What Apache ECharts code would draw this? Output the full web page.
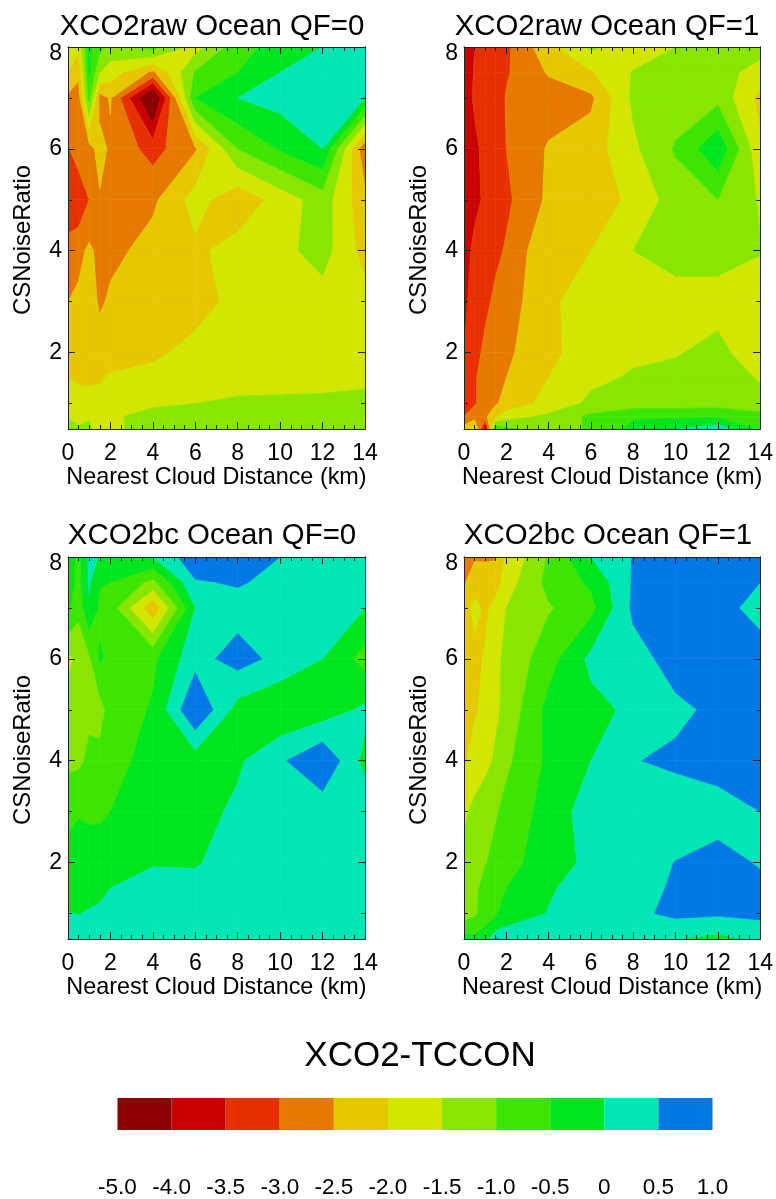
<!DOCTYPE html>
<html>
<head>
<meta charset="utf-8">
<style>html,body{margin:0;padding:0;background:#fff}#c{width:776px;height:1199px}</style>
<script src="https://cdn.jsdelivr.net/npm/echarts@6/dist/echarts.min.js"></script>
</head>
<body>
<div id="c"></div>
<script>
const xGrid = [0, 0.5, 1, 1.5, 2, 4, 6, 8, 10, 12, 14];
const yGrid = [8, 7.5, 7, 6, 5, 4, 3, 2, 1.5, 1, 0.75, 0.5];

const rawQF0 = [
  [-1.4,-1.9,-0.4,-0.8,-1.2,-0.8,-1.7,-0.7,-0.3,0.0,0.15],
  [-2.0,-2.4,-0.45,-1.5,-1.75,-2.6,-0.95,-0.5,0.0,0.3,0.3],
  [-2.6,-2.7,-0.85,-2.7,-2.45,-4.8,-0.5,0.0,0.2,0.3,0.0],
  [-3.05,-2.7,-2.7,-2.3,-2.6,-3.2,-2.55,-1.0,-0.45,0.0,-2.9],
  [-3.5,-3.4,-3.0,-2.55,-2.75,-2.6,-1.8,-2.35,-1.8,-1.25,-2.35],
  [-2.75,-2.65,-2.4,-2.65,-2.65,-2.3,-2.1,-1.8,-1.65,-1.3,-2.2],
  [-2.5,-2.4,-2.2,-2.6,-2.4,-2.2,-2.2,-1.85,-1.75,-1.7,-1.8],
  [-2.2,-2.2,-2.2,-2.15,-2.2,-2.1,-1.85,-1.75,-1.75,-1.75,-1.75],
  [-2.0,-2.1,-2.1,-2.05,-1.95,-1.85,-1.7,-1.65,-1.65,-1.65,-1.6],
  [-1.7,-1.75,-1.8,-1.85,-1.8,-1.55,-1.5,-1.44,-1.42,-1.4,-1.37],
  [-1.52,-1.65,-1.6,-1.8,-1.55,-1.4,-1.38,-1.3,-1.3,-1.3,-1.25],
  [-1.35,-1.45,-1.3,-2.05,-1.6,-1.3,-1.25,-1.25,-1.25,-1.25,-1.25]
];
const rawQF1 = [
  [-3.8,-3.5,-3.3,-3.55,-3.1,-2.15,-1.4,-1.8,-1.5,-1.3,-1.3],
  [-3.85,-3.45,-3.25,-3.3,-3.05,-2.45,-2.05,-1.47,-1.35,-1.3,-1.7],
  [-3.85,-3.4,-3.3,-3.2,-2.97,-2.75,-2.6,-1.4,-1.25,-1.15,-2.15],
  [-3.9,-3.65,-3.3,-3.2,-3.0,-2.45,-2.25,-1.6,-0.95,-0.1,-1.9],
  [-3.95,-3.65,-3.4,-3.3,-3.1,-2.4,-2.25,-1.9,-1.25,-1.0,-1.55],
  [-3.75,-3.35,-3.25,-3.1,-2.95,-2.05,-2.0,-1.5,-1.35,-1.3,-1.48],
  [-3.6,-3.3,-3.1,-2.9,-2.75,-2.1,-1.75,-1.7,-1.65,-1.7,-1.7],
  [-3.5,-3.15,-2.9,-2.75,-2.6,-2.1,-1.8,-1.58,-1.54,-1.35,-1.85],
  [-3.4,-3.05,-2.8,-2.65,-2.5,-2.0,-1.6,-1.45,-1.35,-1.2,-1.55],
  [-3.3,-3.05,-2.8,-2.55,-2.35,-1.8,-1.4,-1.3,-1.25,-1.2,-1.3],
  [-3.0,-2.75,-2.6,-2.1,-1.75,-1.4,-0.9,-0.55,-0.6,-0.6,-0.85],
  [-2.3,-1.8,-3.9,-0.6,-0.9,-1.2,-0.95,-0.37,0.0,0.3,-0.6]
];
const bcQF0 = [
  [-0.2,-0.65,0.1,-0.02,-0.35,0.0,0.85,0.8,0.5,0.3,0.3],
  [-0.25,-0.65,0.05,-0.47,-0.5,-1.14,0.45,0.55,0.35,0.3,0.2],
  [-0.4,-0.85,-0.05,-0.6,-0.75,-2.4,0.0,0.3,0.3,0.3,0.0],
  [-1.6,-1.4,-1.1,-0.45,-0.6,-0.6,0.32,0.7,0.35,0.0,-0.7],
  [-1.3,-1.3,-1.1,-1.2,-0.8,-0.45,1.0,-0.2,-0.45,-0.28,0.1],
  [-1.1,-1.1,-0.9,-0.85,-0.75,-0.25,-0.26,-0.08,0.42,0.95,-0.15],
  [-0.7,-0.55,-0.6,-0.6,-0.5,-0.2,-0.2,0.1,0.25,0.2,0.3],
  [-0.25,-0.2,-0.2,-0.2,-0.2,-0.02,-0.03,0.15,0.2,0.2,0.2],
  [-0.1,-0.12,-0.12,-0.07,0.0,0.1,0.1,0.15,0.2,0.2,0.2],
  [0.01,-0.01,0.03,0.05,0.1,0.15,0.15,0.15,0.2,0.2,0.2],
  [0.1,0.1,0.12,0.15,0.15,0.2,0.2,0.2,0.2,0.2,0.2],
  [0.15,0.15,0.2,0.2,0.2,0.25,0.25,0.25,0.25,0.25,0.25]
];
const bcQF1 = [
  [-2.9,-2.55,-2.55,-2.55,-1.95,-0.95,0.0,0.52,0.7,0.7,0.7],
  [-2.55,-2.25,-2.3,-2.2,-1.75,-0.85,-0.42,0.55,0.7,0.7,0.5],
  [-2.3,-1.85,-2.1,-1.85,-1.5,-1.05,-0.65,0.6,0.8,0.7,0.3],
  [-2.4,-2.15,-1.95,-1.6,-1.4,-0.7,0.12,0.3,0.7,0.8,0.75],
  [-2.25,-2.05,-1.9,-1.6,-1.35,-0.35,-0.15,0.1,0.4,0.6,0.75],
  [-2.05,-1.85,-1.65,-1.42,-1.1,-0.4,0.0,0.48,0.58,0.6,0.8],
  [-1.6,-1.35,-1.2,-1.05,-0.85,-0.3,0.25,0.25,0.25,0.4,0.5],
  [-1.35,-1.2,-1.03,-0.85,-0.7,-0.2,0.1,0.3,0.51,0.58,0.48],
  [-1.2,-1.1,-0.85,-0.65,-0.5,-0.05,0.2,0.35,0.55,0.65,0.55],
  [-1.15,-1.05,-0.85,-0.55,-0.3,0.02,0.2,0.45,0.55,0.55,0.55],
  [-0.9,-0.8,-0.5,-0.3,0.0,0.0,0.2,0.3,0.42,0.3,0.45],
  [-0.25,-0.35,-0.4,0.6,0.2,0.2,0.2,0.15,0.02,-0.2,0.15]
];

const panelTitles = ['XCO2raw Ocean QF=0','XCO2raw Ocean QF=1','XCO2bc Ocean QF=0','XCO2bc Ocean QF=1'];
const panelValues = [rawQF0, rawQF1, bcQF0, bcQF1];
const xAxisName = 'Nearest Cloud Distance (km)';
const yAxisName = 'CSNoiseRatio';
const yMajorTicks = [2,4,6,8];
const yMinorTicks = [1,3,5,7];
const levels = [-5,-4,-3.5,-3,-2.5,-2,-1.5,-1,-0.5,0,0.5,1];
const levelLabels = ['-5.0','-4.0','-3.5','-3.0','-2.5','-2.0','-1.5','-1.0','-0.5','0','0.5','1.0'];
const bandColors = ['#8B0000','#C80000','#E63000','#E67A00','#E6C800','#D2E600','#88E600','#3CE600','#00E61E','#00E6B4','#0078E6'];
const colorbarTitle = 'XCO2-TCCON';

const FONT = '"Liberation Sans", Arial, sans-serif';

// Marching squares on one cell: contour edges join the crossings on the cell's sides.
function cross(a, b, lim) {
  const t = (lim - a.v) / (b.v - a.v);
  return {x: a.x + t * (b.x - a.x), y: a.y + t * (b.y - a.y), v: lim};
}
function clip(poly, lim, sign) {
  const out = [];
  for (let k = 0; k < poly.length; k++) {
    const a = poly[k], b = poly[(k + 1) % poly.length];
    const ina = sign * (a.v - lim) >= 0, inb = sign * (b.v - lim) >= 0;
    if (ina) out.push(a);
    if (ina !== inb) out.push(cross(a, b, lim));
  }
  return out;
}
function isSaddle(q, lim) {
  const s = q.map(function (c) { return c.v >= lim; });
  return s[0] === s[2] && s[1] === s[3] && s[0] !== s[1];
}
function cornerTriangles(q, lim, wantAbove) {
  const out = [];
  for (let k = 0; k < 4; k++) {
    if ((q[k].v >= lim) !== wantAbove) continue;
    const prev = q[(k + 3) % 4], next = q[(k + 1) % 4];
    out.push([q[k], cross(q[k], next, lim), cross(prev, q[k], lim)]);
  }
  return out;
}
function bandPieces(q, lo, hi) {
  const avg = (q[0].v + q[1].v + q[2].v + q[3].v) / 4;
  if (isSaddle(q, hi) && avg >= hi) {
    return cornerTriangles(q, hi, false).map(function (p) { return clip(p, lo, 1); });
  }
  const above = (isSaddle(q, lo) && avg < lo) ? cornerTriangles(q, lo, true) : [clip(q, lo, 1)];
  return above.map(function (p) { return clip(p, hi, -1); });
}

function contourItem(values) {
  return function (params, api) {
    const i = api.value(2), j = api.value(3);
    const quad = [[i, j], [i + 1, j], [i + 1, j + 1], [i, j + 1]].map(function (q) {
      const v = Math.max(levels[0], Math.min(levels[levels.length - 1], values[q[1]][q[0]]));
      return {x: xGrid[q[0]], y: yGrid[q[1]], v: v};
    });
    const children = [];
    for (let b = 0; b < bandColors.length; b++) {
      bandPieces(quad, levels[b], levels[b + 1]).forEach(function (p) {
        if (p.length < 3) return;
        children.push({
          type: 'polygon',
          shape: {points: p.map(function (c) { return api.coord([c.x, c.y]); })},
          style: {fill: bandColors[b], stroke: bandColors[b], lineWidth: 0.6}
        });
      });
    }
    return {type: 'group', children: children};
  };
}

const cellData = [];
for (let j = 0; j < yGrid.length - 1; j++)
  for (let i = 0; i < xGrid.length - 1; i++)
    cellData.push([xGrid[i], yGrid[j], i, j]);

const gridsPos = [
  {left: 68, top: 47, width: 297, height: 382},
  {left: 464, top: 47, width: 297, height: 382},
  {left: 68, top: 557, width: 297, height: 382},
  {left: 464, top: 557, width: 297, height: 382}
];
const titleCenters = [212, 607, 212, 608];
const titleTops = [12, 12, 521, 521];

const axisLine = {show: true, onZero: false, lineStyle: {color: '#222', width: 1}};
const opt = {
  animation: false,
  backgroundColor: '#fff',
  grid: gridsPos.concat([{left: 117.5, top: 1098, width: 595, height: 32}]),
  title: panelTitles.map(function (t, k) {
    return {text: t, left: titleCenters[k], top: titleTops[k], textAlign: 'center', padding: 0,
      textStyle: {fontFamily: FONT, fontSize: 29.4, fontWeight: 'normal', color: '#000'}};
  }).concat([{text: colorbarTitle, left: 420, top: 1039, textAlign: 'center', padding: 0,
      textStyle: {fontFamily: FONT, fontSize: 35, fontWeight: 'normal', color: '#000'}}]),
  xAxis: [], yAxis: [], series: []
};

panelTitles.forEach(function (t, k) {
  ['bottom', 'top'].forEach(function (pos) {
    opt.xAxis.push({
      type: 'value', gridIndex: k, position: pos, min: 0, max: 14, interval: 2, z: 5,
      name: pos === 'bottom' ? xAxisName : '', nameLocation: 'middle', nameGap: 37,
      nameTextStyle: {fontFamily: FONT, fontSize: 23.4, color: '#000'},
      axisLine: axisLine, splitLine: {show: false},
      axisTick: {show: true, inside: true, length: 7, lineStyle: {color: '#222', width: 1}},
      minorTick: {show: true, splitNumber: 4, length: 4, lineStyle: {color: '#222', width: 1}},
      axisLabel: {show: pos === 'bottom', margin: 13, fontFamily: FONT, fontSize: 23, color: '#000', hideOverlap: false}
    });
  });
  [['left', yMajorTicks, 7, true], ['right', yMajorTicks, 7, false],
   ['left', yMinorTicks, 4, false], ['right', yMinorTicks, 4, false]].forEach(function (a, n) {
    opt.yAxis.push({
      type: 'value', gridIndex: k, position: a[0], min: 0.5, max: 8, z: 5,
      name: n === 0 ? yAxisName : '', nameLocation: 'middle', nameGap: 32.5,
      nameTextStyle: {fontFamily: FONT, fontSize: 23.9, color: '#000', padding: [0, 4, 0, 0]},
      axisLine: axisLine, splitLine: {show: false},
      axisTick: {show: true, inside: true, length: a[2], customValues: a[1], lineStyle: {color: '#222', width: 1}},
      axisLabel: {show: a[3], customValues: a[1], margin: 6, fontFamily: FONT, fontSize: 23, color: '#000', hideOverlap: false,
        formatter: function (v) { return v === 8 ? '{top|8}' : String(v); },
        rich: {top: {fontFamily: FONT, fontSize: 23, color: '#000', padding: [13, 0, 0, 0]}}}
    });
  });
  opt.series.push({
    type: 'custom', xAxisIndex: k * 2, yAxisIndex: k * 4, z: 1, silent: true, clip: true,
    coordinateSystem: 'cartesian2d', renderItem: contourItem(panelValues[k]),
    encode: {x: 0, y: 1}, data: cellData
  });
});

// colour bar
opt.xAxis.push({
  type: 'value', gridIndex: 4, min: 0, max: bandColors.length, interval: 1,
  axisLine: {show: false}, axisTick: {show: false}, splitLine: {show: false},
  axisLabel: {margin: 46, fontFamily: FONT, fontSize: 22.5, color: '#000', hideOverlap: false,
    formatter: function (v) { return levelLabels[Math.round(v)]; }}
});
opt.yAxis.push({type: 'value', gridIndex: 4, min: 0, max: 1, show: false});
opt.series.push({
  type: 'custom', xAxisIndex: 8, yAxisIndex: 16, silent: true,
  coordinateSystem: 'cartesian2d',
  renderItem: function (params, api) {
    const b = api.value(0);
    const p0 = api.coord([b, 1]), p1 = api.coord([b + 1, 0]);
    return {type: 'rect', shape: {x: p0[0], y: p0[1], width: p1[0] - p0[0], height: p1[1] - p0[1]},
      style: {fill: bandColors[b]}};
  },
  encode: {x: 0},
  data: bandColors.map(function (c, b) { return [b]; })
});

echarts.init(document.getElementById('c'), null, {renderer: 'canvas'}).setOption(opt);
</script>
</body>
</html>
